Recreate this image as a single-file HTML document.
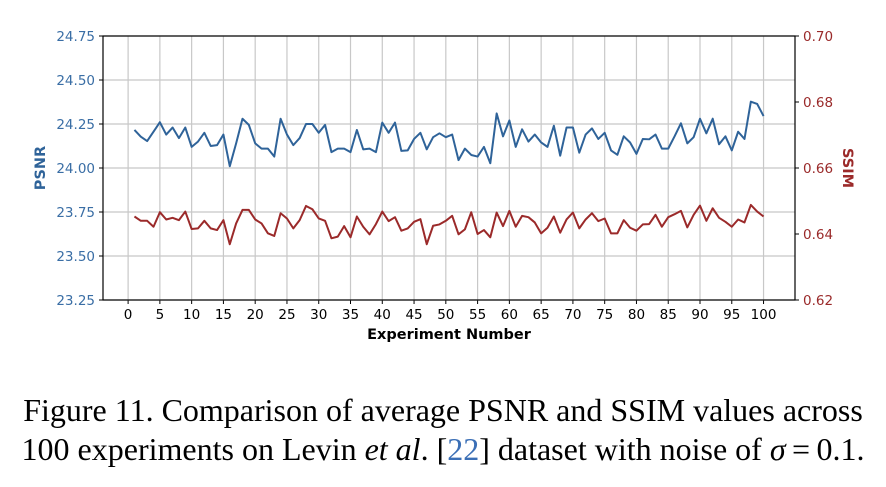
<!DOCTYPE html>
<html><head><meta charset="utf-8"><style>
body{margin:0;background:#fff;width:886px;height:487px;overflow:hidden}
svg text{font-family:"DejaVu Sans","Liberation Sans",sans-serif}
.cap{position:absolute;left:0;width:886px;text-align:center;font-family:"Liberation Serif",serif;font-size:32px;line-height:36px;color:#000;white-space:nowrap}
</style></head><body>
<svg id="chart" width="886" height="370" style="position:absolute;left:0;top:0"></svg>
<div class="cap" style="top:392px">Figure 11. Comparison of average PSNR and SSIM values across</div>
<div class="cap" style="top:431px">100 experiments on Levin <i>et al</i>. [<span style="color:#3b6fb6">22</span>] dataset with noise of <i>σ</i>&#8201;=&#8201;0.1.</div>
<script>
const psnr=[24.216,24.178,24.153,24.206,24.26,24.19,24.23,24.17,24.23,24.12,24.15,24.20,24.125,24.13,24.19,24.01,24.14,24.28,24.245,24.14,24.11,24.11,24.065,24.28,24.19,24.13,24.17,24.25,24.25,24.20,24.245,24.09,24.11,24.11,24.09,24.216,24.106,24.11,24.09,24.258,24.20,24.258,24.097,24.10,24.165,24.20,24.106,24.175,24.197,24.175,24.19,24.045,24.11,24.074,24.065,24.12,24.027,24.31,24.18,24.27,24.12,24.22,24.15,24.19,24.145,24.12,24.24,24.07,24.23,24.23,24.087,24.19,24.225,24.165,24.20,24.10,24.075,24.18,24.145,24.08,24.165,24.163,24.19,24.11,24.11,24.18,24.254,24.14,24.175,24.28,24.197,24.28,24.135,24.18,24.10,24.206,24.165,24.377,24.364,24.295];
const ssim=[0.6453,0.6440,0.6440,0.6422,0.6466,0.6444,0.6449,0.6442,0.6468,0.6415,0.6417,0.6440,0.6417,0.6412,0.6442,0.6369,0.6432,0.6473,0.6473,0.6444,0.6432,0.6402,0.6394,0.6463,0.6447,0.6417,0.6442,0.6485,0.6475,0.6447,0.6440,0.6387,0.6392,0.6424,0.6390,0.6453,0.6422,0.6399,0.6430,0.6468,0.6439,0.6451,0.6410,0.6417,0.6437,0.6445,0.6369,0.6425,0.6429,0.6440,0.6455,0.6399,0.6414,0.6466,0.6400,0.6412,0.6390,0.6465,0.6424,0.6470,0.6422,0.6455,0.6451,0.6435,0.6402,0.6419,0.6453,0.6404,0.6444,0.6465,0.6417,0.6444,0.6463,0.6439,0.6447,0.6402,0.6402,0.6442,0.6419,0.6410,0.6429,0.6430,0.6458,0.6422,0.6451,0.6460,0.6470,0.6420,0.6458,0.6486,0.6440,0.6478,0.6449,0.6437,0.6422,0.6444,0.6435,0.6488,0.6468,0.6453];
const xTicks=[0,5,10,15,20,25,30,35,40,45,50,55,60,65,70,75,80,85,90,95,100];
const leftTicks=[23.25,23.5,23.75,24.0,24.25,24.5,24.75];
const rightTicks=[0.62,0.64,0.66,0.68,0.70];
const NS="http://www.w3.org/2000/svg";
const svg=document.getElementById('chart');
const L=103,R=795,T=36,B=300;
const xs=v=>L+(v+3.95)/(108.9)*(R-L);
const yl=v=>B-(v-23.25)/1.5*(B-T);
const yr=v=>B-(v-0.62)/0.08*(B-T);
function mk(tag,attrs,parent){const e=document.createElementNS(NS,tag);for(const k in attrs)e.setAttribute(k,attrs[k]);(parent||svg).appendChild(e);return e;}
xTicks.forEach(t=>{
 const g=mk('line',{x1:xs(t),x2:xs(t),y1:T,y2:B,stroke:'#c8c8c8','stroke-width':1.2});
 
 
 mk('line',{x1:xs(t),x2:xs(t),y1:B,y2:B+4,stroke:'#000'});
 const tx=mk('text',{x:xs(t),y:B+19,'text-anchor':'middle','font-size':13.5,fill:'#000'});
 tx.textContent=t;
 
 
});
leftTicks.forEach(t=>{
 const g=mk('line',{x1:L,x2:R,y1:yl(t),y2:yl(t),stroke:'#c8c8c8','stroke-width':1.2});
 
 
 mk('line',{x1:L-4,x2:L,y1:yl(t),y2:yl(t),stroke:'#000'});
 const tx=mk('text',{x:L-8,y:yl(t)+5,'text-anchor':'end','font-size':13.5,fill:'#3a6ea5'});
 tx.textContent=t.toFixed(2);
 
 
});
rightTicks.forEach(t=>{
 mk('line',{x1:R,x2:R+4,y1:yr(t),y2:yr(t),stroke:'#000'});
 const tx=mk('text',{x:R+8,y:yr(t)+5,'text-anchor':'start','font-size':13.5,fill:'#9a2a2a'});
 tx.textContent=t.toFixed(2);
 
 
});
const fr=mk('rect',{x:L,y:T,width:R-L,height:B-T,fill:'none',stroke:'#000','stroke-width':1.2});


const p1=mk('polyline',{points:psnr.map((v,i)=>xs(i+1)+','+yl(v)).join(' '),fill:'none',stroke:'#2f6399','stroke-width':2,'stroke-linejoin':'round'});


const p2=mk('polyline',{points:ssim.map((v,i)=>xs(i+1)+','+yr(v)).join(' '),fill:'none',stroke:'#9b2a2a','stroke-width':2,'stroke-linejoin':'round'});


const xl=mk('text',{x:(L+R)/2,y:339,'text-anchor':'middle','font-size':14.5,'font-weight':'bold',fill:'#000'});
xl.textContent='Experiment Number';


const ylb=mk('text',{x:0,y:0,'text-anchor':'middle','font-size':14.5,'font-weight':'bold',fill:'#2f6399',transform:'translate(45,168) rotate(-90)'});
ylb.textContent='PSNR';


const yrb=mk('text',{x:0,y:0,'text-anchor':'middle','font-size':14.5,'font-weight':'bold',fill:'#9b2a2a',transform:'translate(843,168) rotate(90)'});
yrb.textContent='SSIM';


</script>
</body></html>
